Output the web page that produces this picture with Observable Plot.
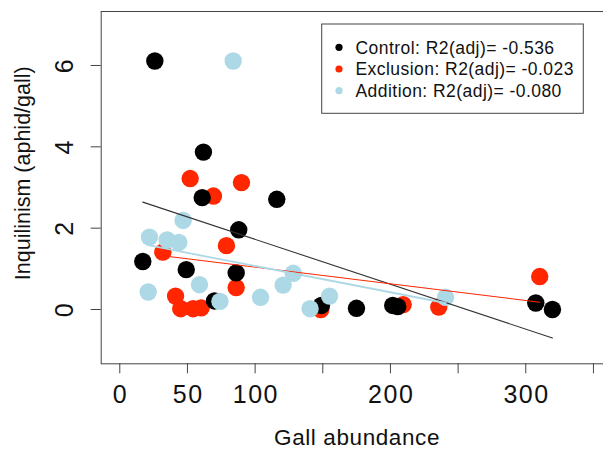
<!DOCTYPE html>
<html>
<head>
<meta charset="utf-8">
<script src="https://cdn.jsdelivr.net/npm/d3@7"></script>
<script src="https://cdn.jsdelivr.net/npm/@observablehq/plot@0.6"></script>
<style>
  html, body { margin: 0; padding: 0; background: #fff; overflow: hidden; }
  #wrap { position: relative; width: 603px; height: 450px; overflow: hidden; }
  #wrap svg { font-family: "Liberation Sans", Arial, Helvetica, sans-serif; }
  #wrap > svg.plotchart { max-width: none !important; width: 620px; height: 450px; }
  .ticklab text { letter-spacing: 1.5px; }
  .xtitle text { letter-spacing: 0.6px; }
  #legend { position: absolute; left: 0; top: 0; }
</style>
</head>
<body>
<div id="wrap"></div>
<script>
// ---- data ----
const groups = ["Control", "Exclusion", "Addition"];
const groupColors = ["#000000", "#ff2600", "#add8e6"];
const r2adj = ["-0.536", "-0.023", "-0.080"];

const controlX = [25.9, 61.8, 60.9, 116.0, 87.9, 17.0, 49.1, 86.0, 70.0, 149.0, 174.9, 201.7, 205.4, 307.4, 319.7];
const controlY = [6.11, 3.87, 2.75, 2.71, 1.96, 1.18, 0.98, 0.90, 0.21, 0.10, 0.03, 0.10, 0.07, 0.16, 0.00];

const exclusionX = [52.0, 89.9, 69.2, 78.8, 31.8, 86.0, 41.2, 45.0, 54.2, 60.1, 148.5, 209.4, 235.7, 310.3];
const exclusionY = [3.22, 3.12, 2.79, 1.57, 1.41, 0.54, 0.33, 0.02, 0.02, 0.04, 0.00, 0.12, 0.06, 0.81];

const additionX = [83.8, 46.8, 21.9, 35.0, 43.6, 58.9, 21.0, 74.0, 104.0, 120.7, 128.2, 140.6, 155.0, 240.7];
const additionY = [6.11, 2.19, 1.78, 1.71, 1.65, 0.61, 0.43, 0.20, 0.30, 0.60, 0.89, 0.02, 0.33, 0.30];

// fitted lines (endpoints)
const controlFitX = [17.0, 319.7];
const controlFitY = [2.64, -0.70];
const exclusionFitX = [31.8, 310.3];
const exclusionFitY = [1.32, 0.18];
const additionFitX = [21.0, 240.7];
const additionFitY = [1.58, 0.16];

const xTicks = [0, 50, 100, 150, 200, 250, 300, 350];
const xTickLabels = [0, 50, 100, 200, 300];
const yTicks = [0, 2, 4, 6];

const xTitle = "Gall abundance";
const yTitle = "Inquilinism (aphid/gall)";

// ---- build tables ----
const toRows = (xs, ys, g) => xs.map((x, i) => ({x, y: ys[i], group: g}));
const control = toRows(controlX, controlY, "Control");
const exclusion = toRows(exclusionX, exclusionY, "Exclusion");
const addition = toRows(additionX, additionY, "Addition");
const controlFit = toRows(controlFitX, controlFitY, "Control");
const exclusionFit = toRows(exclusionFitX, exclusionFitY, "Exclusion");
const additionFit = toRows(additionFitX, additionFitY, "Addition");

const axisColor = "#444";
const R = 8.7;

const chart = Plot.plot({
  width: 620,
  height: 450,
  marginLeft: 100.7,
  marginRight: 5,
  marginTop: 11,
  marginBottom: 86.7,
  x: {domain: [-13.74, 366.3]},
  y: {domain: [-1.335, 7.327]},
  style: {background: "#fff", fontFamily: "Liberation Sans, Arial, Helvetica, sans-serif"},
  marks: [
    Plot.axisX({ticks: xTicks, tickSize: 10, tickFormat: () => "", stroke: axisColor, label: null}),
    Plot.axisY({ticks: yTicks, tickSize: 10, tickFormat: () => "", stroke: axisColor, label: null}),
    Plot.text(xTickLabels, {x: d => d, text: d => String(d), frameAnchor: "bottom", dy: 31.5, dx: 0.75,
      lineAnchor: "middle", textAnchor: "middle", fontSize: 25, fill: "#111", className: "ticklab"}),
    Plot.text(yTicks, {y: d => d, text: d => String(d), frameAnchor: "left", dx: -36.5,
      rotate: -90, lineAnchor: "middle", textAnchor: "middle", fontSize: 25, fill: "#111", className: "ticklab"}),
    Plot.text([xTitle], {text: d => d, frameAnchor: "bottom", dy: 74.3, dx: -1.3,
      lineAnchor: "middle", textAnchor: "middle", fontSize: 22.5, fill: "#111", className: "xtitle"}),
    Plot.text([yTitle], {text: d => d, frameAnchor: "left", dx: -78.4, dy: -14.4, rotate: -90,
      lineAnchor: "middle", textAnchor: "middle", fontSize: 21.5, fill: "#111"}),
    Plot.frame({stroke: axisColor, strokeWidth: 1}),
    Plot.dot(exclusion, {x: "x", y: "y", r: R, fill: groupColors[1], stroke: "none"}),
    Plot.dot(control, {x: "x", y: "y", r: R, fill: groupColors[0], stroke: "none"}),
    Plot.dot(addition, {x: "x", y: "y", r: R, fill: groupColors[2], stroke: "none"}),
    Plot.line(controlFit, {x: "x", y: "y", stroke: "#333", strokeWidth: 1.1}),
    Plot.line(exclusionFit, {x: "x", y: "y", stroke: groupColors[1], strokeWidth: 1.1}),
    Plot.line(additionFit, {x: "x", y: "y", stroke: groupColors[2], strokeWidth: 1.8})
  ]
});

chart.classList.add("plotchart");
chart.style.maxWidth = "none";
chart.style.width = "620px";
chart.style.height = "450px";

const wrap = document.getElementById("wrap");
wrap.appendChild(chart);

// ---- legend box (overlay) ----
const leg = d3.select(wrap).append("svg")
  .attr("id", "legend")
  .attr("width", 603).attr("height", 450)
  .style("font-family", "Liberation Sans, Arial, Helvetica, sans-serif");
leg.append("rect")
  .attr("x", 321.7).attr("y", 24).attr("width", 261.6).attr("height", 89.3)
  .attr("fill", "#fff").attr("stroke", axisColor).attr("stroke-width", 1);
const rowY = [47.3, 69.0, 90.7];
groups.forEach((g, i) => {
  leg.append("circle").attr("cx", 339).attr("cy", rowY[i]).attr("r", 3.6).attr("fill", groupColors[i]);
  leg.append("text").attr("x", 355.5).attr("y", rowY[i]).attr("dy", "0.36em")
    .attr("font-size", 17.5).attr("letter-spacing", "0.45px").attr("fill", "#111")
    .text(`${g}: R2(adj)= ${r2adj[i]}`);
});
</script>
</body>
</html>
